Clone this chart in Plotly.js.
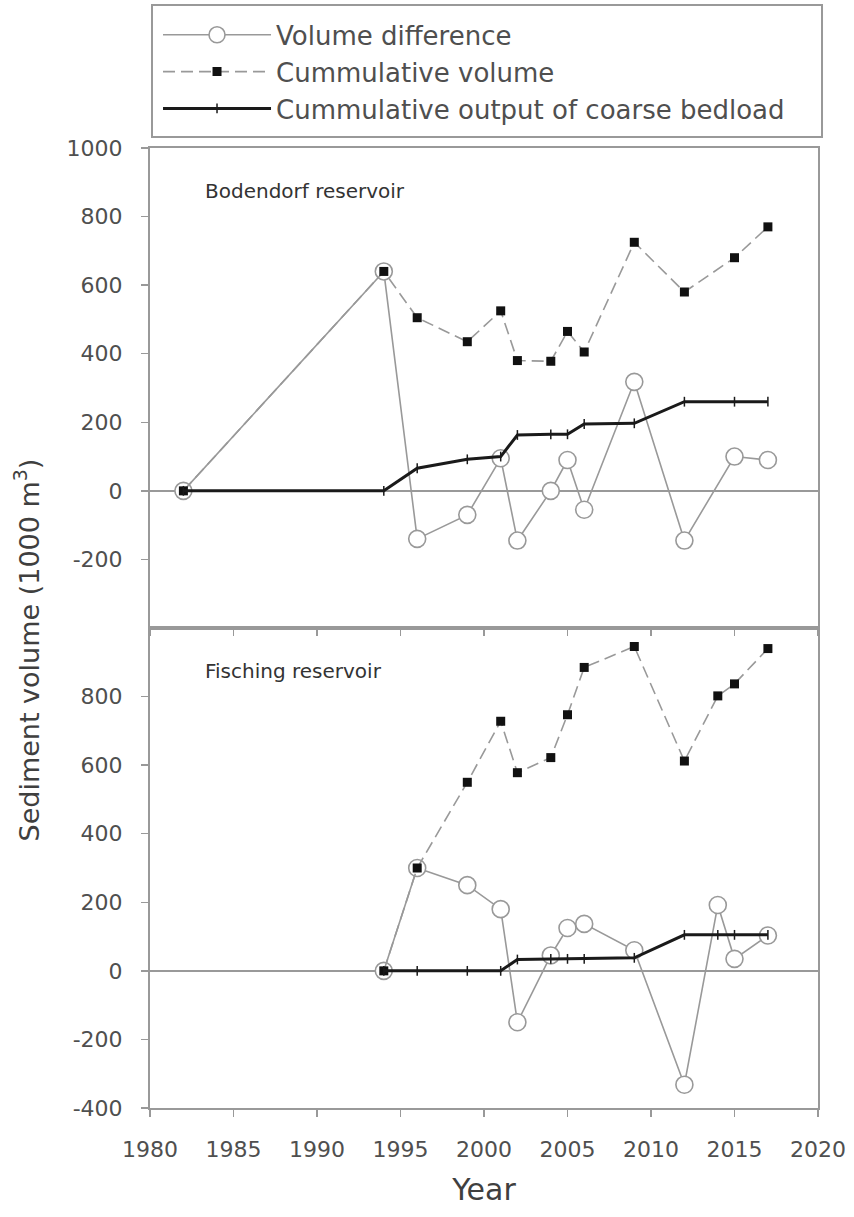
<!DOCTYPE html>
<html>
<head>
<meta charset="utf-8">
<script src="https://cdn.plot.ly/plotly-3.0.1.min.js"></script>
<style>
html,body{margin:0;padding:0;background:#fff;}
#chart{width:854px;height:1217px;}
</style>
</head>
<body>
<div id="chart"></div>
<script>
// ---- Data ----
var seriesNames = ["Volume difference", "Cummulative volume", "Cummulative output of coarse bedload"];
var panelNames = ["Bodendorf reservoir", "Fisching reservoir"];

var yearsBodendorf = [1982, 1994, 1996, 1999, 2001, 2002, 2004, 2005, 2006, 2009, 2012, 2015, 2017];
var bodVolumeDiff  = [0, 640, -140, -70, 95, -145, 0, 90, -55, 318, -145, 100, 90];
var bodCumVolume   = [0, 640, 505, 435, 525, 380, 378, 465, 405, 725, 580, 680, 770];
var bodBedload     = [0, 0, 66, 92, 100, 163, 165, 165, 195, 197, 260, 260, 260];

var yearsFisching  = [1994, 1996, 1999, 2001, 2002, 2004, 2005, 2006, 2009, 2012, 2014, 2015, 2017];
var fisVolumeDiff  = [0, 300, 250, 180, -150, 45, 125, 137, 60, -332, 192, 35, 103];
var fisCumVolume   = [0, 300, 550, 728, 578, 622, 747, 885, 946, 612, 802, 837, 940];
var fisBedload     = [0, 0, 0, 0, 33, 35, 35, 35, 38, 105, 105, 105, 105];

var xTickVals = [1980, 1985, 1990, 1995, 2000, 2005, 2010, 2015, 2020];
var yTickValsTop = [-200, 0, 200, 400, 600, 800, 1000];
var yTickTextTop = ["-200", "0", "200", "400", "600", "800", "1000"];
var yTickValsBottom = [-400, -200, 0, 200, 400, 600, 800];
var yTickTextBottom = ["-400", "-200", "0", "200", "400", "600", "800"];

// ---- Styles ----
var FONT = "DejaVu Sans, Liberation Sans, Arial, sans-serif";
var GRAY = "#999999";
var TXT = "#3f3f3f";

function diffTrace(x, y, xa, ya, show) {
  return {
    x: x, y: y, xaxis: xa, yaxis: ya, type: "scatter", mode: "lines+markers",
    name: seriesNames[0], legendgroup: "g0", showlegend: show,
    line: {color: GRAY, width: 1.6},
    marker: {symbol: "circle", size: 17, color: "#ffffff", line: {color: GRAY, width: 1.6}},
    cliponaxis: false
  };
}
function cumTrace(x, y, xa, ya, show) {
  return {
    x: x, y: y, xaxis: xa, yaxis: ya, type: "scatter", mode: "lines+markers",
    name: seriesNames[1], legendgroup: "g1", showlegend: show,
    line: {color: GRAY, width: 1.6, dash: "12px,6px"},
    marker: {symbol: "square", size: 9, color: "#111111"},
    cliponaxis: false
  };
}
function bedTrace(x, y, xa, ya, show) {
  return {
    x: x, y: y, xaxis: xa, yaxis: ya, type: "scatter", mode: "lines+markers",
    name: seriesNames[2], legendgroup: "g2", showlegend: show,
    line: {color: "#1a1a1a", width: 3},
    marker: {symbol: "line-ns", size: 7, color: "#1a1a1a", line: {color: "#1a1a1a", width: 1.5}},
    cliponaxis: false
  };
}

var data = [
  diffTrace(yearsBodendorf, bodVolumeDiff, "x2", "y2", true),
  cumTrace(yearsBodendorf, bodCumVolume, "x2", "y2", true),
  bedTrace(yearsBodendorf, bodBedload, "x2", "y2", true),
  diffTrace(yearsFisching, fisVolumeDiff, "x", "y", false),
  cumTrace(yearsFisching, fisCumVolume, "x", "y", false),
  bedTrace(yearsFisching, fisBedload, "x", "y", false)
];

var tickFont = {family: FONT, size: 22, color: "#4f4f4f"};

var yCommon = {
  range: [-400, 1000], showgrid: false,
  zeroline: true, zerolinecolor: GRAY, zerolinewidth: 2,
  showline: true, linecolor: GRAY, linewidth: 2, mirror: true,
  ticks: "outside", ticklen: 7, tickwidth: 1.5, tickcolor: GRAY,
  tickfont: tickFont, ticklabelstandoff: 14, tickmode: "array"
};

var layout = {
  width: 854, height: 1217,
  margin: {l: 150, r: 36, t: 148, b: 109, pad: 0, autoexpand: false},
  paper_bgcolor: "#ffffff", plot_bgcolor: "#ffffff",
  font: {family: FONT, color: TXT},
  showlegend: true,
  legend: {
    x: 0.012, xanchor: "left", y: 1.1423, yanchor: "top",
    bgcolor: "rgba(0,0,0,0)", borderwidth: 0,
    font: {family: FONT, size: 26, color: "#4f4f4f"},
    itemwidth: 108, tracegroupgap: 0, traceorder: "grouped"
  },
  xaxis: {
    domain: [0, 1], anchor: "y", range: [1980, 2020],
    tickvals: xTickVals, showgrid: false, zeroline: false,
    showline: true, linecolor: GRAY, linewidth: 2, mirror: true,
    ticks: "outside", ticklen: 7, tickwidth: 1.5, tickcolor: GRAY,
    tickfont: {family: FONT, size: 22, color: "#4f4f4f"}, ticklabelstandoff: 14,
    title: {text: "Year", font: {family: FONT, size: 30, color: TXT}, standoff: 18}
  },
  xaxis2: {
    domain: [0, 1], anchor: "y2", matches: "x", range: [1980, 2020],
    tickvals: xTickVals, showticklabels: false, showgrid: false, zeroline: false,
    showline: true, linecolor: GRAY, linewidth: 2, mirror: true,
    ticks: "outside", ticklen: 6, tickwidth: 1.5, tickcolor: GRAY
  },
  yaxis: Object.assign({domain: [0, 0.5], anchor: "x", tickvals: yTickValsBottom, ticktext: yTickTextBottom}, yCommon),
  yaxis2: Object.assign({domain: [0.5, 1], anchor: "x2", tickvals: yTickValsTop, ticktext: yTickTextTop}, yCommon),
  shapes: [
    {type: "rect", xref: "paper", yref: "paper",
     x0: 0.003, x1: 1.006, y0: 1.0115, y1: 1.149,
     line: {color: GRAY, width: 2}, fillcolor: "rgba(0,0,0,0)"}
  ],
  annotations: [
    {text: panelNames[0], xref: "x2", yref: "y2", x: 1983.2, y: 875,
     xanchor: "left", yanchor: "middle", showarrow: false,
     font: {family: FONT, size: 20, color: "#333333"}},
    {text: panelNames[1], xref: "x", yref: "y", x: 1983.2, y: 875,
     xanchor: "left", yanchor: "middle", showarrow: false,
     font: {family: FONT, size: 20, color: "#333333"}},
    {text: "Sediment volume (1000 m<sup>3</sup>)", xref: "paper", yref: "paper",
     x: -0.185, y: 0.477, xanchor: "center", yanchor: "middle", textangle: -90,
     showarrow: false, font: {family: FONT, size: 27, color: TXT}}
  ]
};

Plotly.newPlot("chart", data, layout, {displayModeBar: false, staticPlot: true});
</script>
</body>
</html>
